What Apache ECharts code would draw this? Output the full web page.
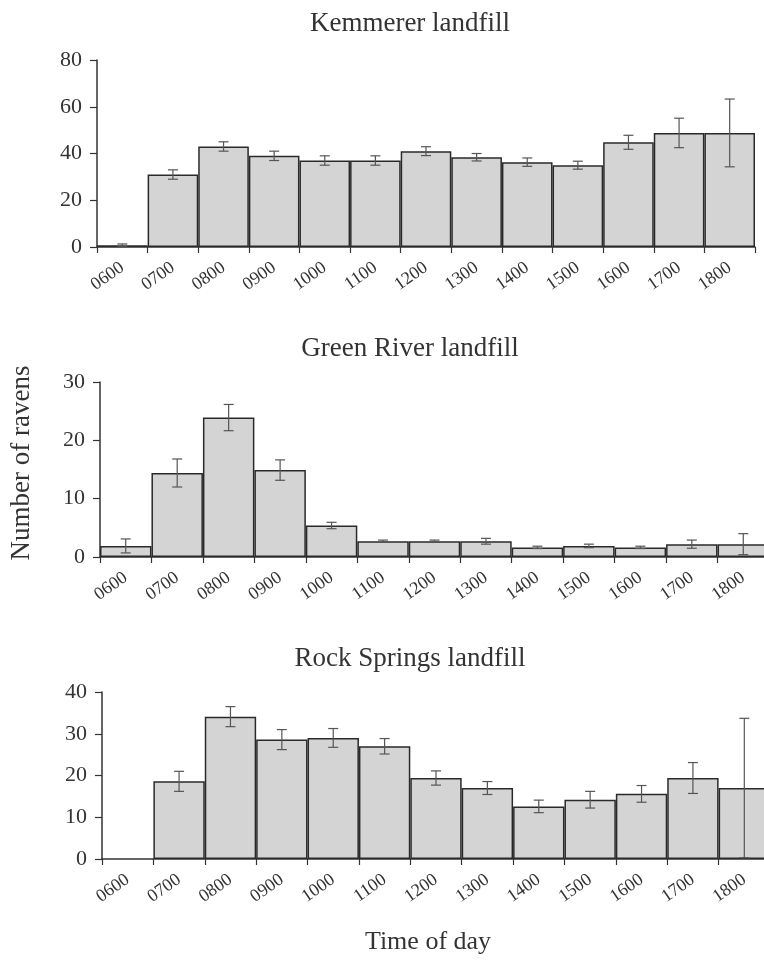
<!DOCTYPE html>
<html>
<head>
<meta charset="utf-8">
<script src="https://cdn.jsdelivr.net/npm/echarts@6/dist/echarts.min.js"></script>
<style>
html,body{margin:0;padding:0;background:#fff;}
#chart{width:764px;height:961px;}
</style>
</head>
<body>
<div id="chart"></div>
<script>
var categories = ['0600','0700','0800','0900','1000','1100','1200','1300','1400','1500','1600','1700','1800'];
var panelTitles = ['Kemmerer landfill','Green River landfill','Rock Springs landfill'];

var kemmererMean = [0.7, 31, 43, 39, 37, 37, 41, 38.4, 36.3, 35, 44.8, 48.8, 48.8];
var kemmererErr  = [0.6, 2, 2, 2, 2, 2, 1.9, 1.6, 1.8, 1.7, 3, 6.3, 14.5];

var greenMean = [1.9, 14.4, 23.9, 14.9, 5.4, 2.7, 2.7, 2.7, 1.65, 1.9, 1.65, 2.2, 2.2];
var greenErr  = [1.2, 2.4, 2.25, 1.75, 0.55, 0.2, 0.2, 0.5, 0.2, 0.3, 0.2, 0.7, 1.8];

var rockMean = [null, 18.6, 34.1, 28.6, 29, 27, 19.4, 17, 12.6, 14.2, 15.6, 19.4, 17];
var rockErr  = [null, 2.4, 2.4, 2.4, 2.25, 1.85, 1.7, 1.55, 1.5, 2, 2, 3.7, 16.7];

var yMax = [80, 30, 40];
var yInterval = [20, 10, 10];

var means = [kemmererMean, greenMean, rockMean];
var errs = [kemmererErr, greenErr, rockErr];

var layout = [
  {left: 97, width: 658, top: 60, height: 187, titleTop: 5},
  {left: 100, width: 669, top: 382, height: 175, titleTop: 330},
  {left: 102, width: 668, top: 692, height: 167, titleTop: 640}
];

var FONT = "'Liberation Serif','Times New Roman',serif";
var TXT = '#333';

var chart = echarts.init(document.getElementById('chart'), null, {renderer: 'canvas'});

var grids = [], xAxes = [], yAxes = [], series = [], titles = [];
for (var i = 0; i < 3; i++) {
  var L = layout[i];
  grids.push({left: L.left, top: L.top, width: L.width, height: L.height, containLabel: false, outerBoundsMode: 'none'});
  xAxes.push({
    type: 'category', gridIndex: i, data: categories,
    boundaryGap: true,
    axisLine: {lineStyle: {color: '#333', width: 1.5}},
    axisTick: {show: true, alignWithLabel: false, length: 6, lineStyle: {color: '#333', width: 1.2}},
    axisLabel: {rotate: 35, interval: 0, margin: 19, fontFamily: FONT, fontSize: 18, color: TXT}
  });
  yAxes.push({
    type: 'value', gridIndex: i, min: 0, max: yMax[i], interval: yInterval[i],
    splitLine: {show: false},
    axisLine: {show: true, lineStyle: {color: '#333', width: 1.5}},
    axisTick: {show: true, length: 7, lineStyle: {color: '#333', width: 1.2}},
    axisLabel: {margin: 15, fontFamily: FONT, fontSize: 22, color: TXT}
  });
  series.push({
    type: 'bar', xAxisIndex: i, yAxisIndex: i,
    data: means[i],
    barCategoryGap: 0, barGap: 0,
    itemStyle: {color: '#d4d4d4', borderColor: '#2a2a2a', borderWidth: 1.5},
    silent: true, animation: false
  });
  (function(idx){
    var errData = [];
    for (var k = 0; k < categories.length; k++) {
      if (means[idx][k] == null) continue;
      errData.push([k, means[idx][k], errs[idx][k]]);
    }
    series.push({
      type: 'custom', xAxisIndex: idx, yAxisIndex: idx,
      data: errData, animation: false, silent: true, z: 10,
      encode: {x: 0, y: 1},
      renderItem: function(params, api){
        var x = api.value(0), m = api.value(1), e = api.value(2);
        var hi = api.coord([x, m + e]);
        var lo = api.coord([x, Math.max(0, m - e)]);
        var cap = 5;
        var st = {stroke: '#555', lineWidth: 1.2};
        return {type: 'group', children: [
          {type: 'line', shape: {x1: hi[0], y1: hi[1], x2: lo[0], y2: lo[1]}, style: st},
          {type: 'line', shape: {x1: hi[0]-cap, y1: hi[1], x2: hi[0]+cap, y2: hi[1]}, style: st},
          {type: 'line', shape: {x1: lo[0]-cap, y1: lo[1], x2: lo[0]+cap, y2: lo[1]}, style: st}
        ]};
      }
    });
  })(i);
  titles.push({text: panelTitles[i], left: 405, top: L.titleTop, textAlign: 'center',
    textStyle: {fontFamily: FONT, fontSize: 27, fontWeight: 'normal', color: TXT}});
}

var option = {
  backgroundColor: '#fff',
  animation: false,
  title: titles,
  grid: grids,
  xAxis: xAxes,
  yAxis: yAxes,
  series: series,
  graphic: [
    {type: 'text', x: 428, y: 942, style: {text: 'Time of day', font: '26px ' + FONT, fill: TXT, textAlign: 'center', textVerticalAlign: 'middle'}},
    {type: 'text', x: 22, y: 463, rotation: Math.PI/2, style: {text: 'Number of ravens', font: '27px ' + FONT, fill: TXT, textAlign: 'center', textVerticalAlign: 'middle'}}
  ]
};
chart.setOption(option);
</script>
</body>
</html>
